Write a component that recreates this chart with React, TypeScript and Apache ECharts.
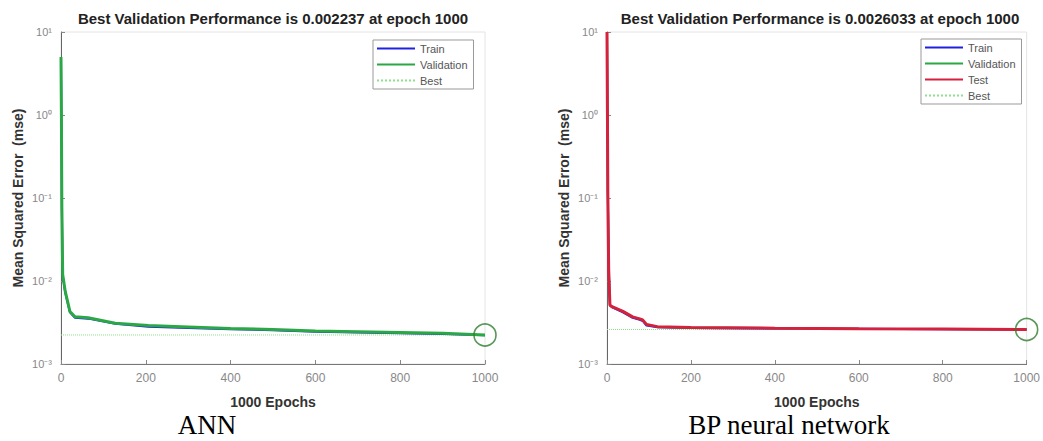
import React, { useEffect, useRef } from "react";
import * as echarts from "echarts";

// ANN (left panel)
const annEpochs = [0, 1, 2, 4, 10, 21, 33, 64, 128, 206, 300, 400, 500, 600, 700, 800, 900, 1000];
const annTrain = [4.6, 0.85, 0.075, 0.0115, 0.0072, 0.0042, 0.0036, 0.00352, 0.00305, 0.00282, 0.00272, 0.00262, 0.00255, 0.00245, 0.0024, 0.00235, 0.0023, 0.00222];
const annValidation = [5, 0.9, 0.08, 0.012, 0.0075, 0.0043, 0.0037, 0.0036, 0.0031, 0.0029, 0.0028, 0.00268, 0.0026, 0.0025, 0.00245, 0.0024, 0.00235, 0.002237];
const annBest = 0.002237;

// BP neural network (right panel)
const bpEpochs = [0, 1, 2, 4, 7, 12, 38, 61, 78, 85, 94, 120, 200, 400, 600, 800, 1000];
const bpTrain = [10, 1.2, 0.12, 0.015, 0.0052, 0.0048, 0.0042, 0.0036, 0.0034, 0.0033, 0.0029, 0.00278, 0.00272, 0.00268, 0.00265, 0.00263, 0.0026];
const bpValidation = [10, 1.1, 0.11, 0.014, 0.0051, 0.0049, 0.0043, 0.0037, 0.0035, 0.0034, 0.0030, 0.00282, 0.00275, 0.0027, 0.00266, 0.00264, 0.0026033];
const bpTest = [10, 1.15, 0.11, 0.014, 0.0051, 0.0049, 0.0043, 0.0037, 0.0035, 0.0034, 0.0030, 0.00282, 0.00275, 0.0027, 0.00266, 0.00264, 0.0026];
const bpBest = 0.0026033;

const xTicks = [0, 200, 400, 600, 800, 1000];
const yDecades = [0.001, 0.01, 0.1, 1, 10];

const titles = [
  "Best Validation Performance is 0.002237 at epoch 1000",
  "Best Validation Performance is 0.0026033 at epoch 1000",
];
const captions = ["ANN", "BP neural network"];

const sup: Record<string, string> = { "-": "\u207B", "0": "\u2070", "1": "\u00B9", "2": "\u00B2", "3": "\u00B3" };
const fmtPow = (v: number) => {
  const e = Math.round(Math.log10(v));
  return "10" + String(e).split("").map((c) => sup[c] || c).join("");
};

const SANS = '"Liberation Sans", Arial, sans-serif';

function pairs(xs: number[], ys: number[]) {
  return xs.map((x, i) => [x, ys[i]]);
}

export default function App() {
  const ref = useRef<HTMLDivElement>(null);
  useEffect(() => {
    if (!ref.current) return;
    const chart = echarts.init(ref.current, undefined, { renderer: "svg" });
    const grids = [
      { left: 61, right: 558, top: 32, bottom: 77 },
      { left: 607, right: 11, top: 32, bottom: 77 },
    ];
    const xAxis = grids.map((_, i) => ({
      type: "value",
      gridIndex: i,
      min: xTicks[0],
      max: xTicks[xTicks.length - 1],
      interval: 200,
      name: "1000 Epochs",
      nameLocation: "middle",
      nameGap: 31,
      nameTextStyle: { fontFamily: SANS, fontWeight: "bold", fontSize: 14, color: "#333" },
      axisLine: { show: true, lineStyle: { color: "#777", width: 1 } },
      axisTick: { show: true, inside: true, length: 4, lineStyle: { color: "#888" } },
      axisLabel: { fontFamily: SANS, fontSize: 12, color: "#888", margin: 8, formatter: (v: number) => String(v) },
      splitLine: { show: false },
    }));
    const yAxis = grids.map((_, i) => ({
      type: "log",
      logBase: 10,
      gridIndex: i,
      min: yDecades[0],
      max: yDecades[yDecades.length - 1],
      name: "Mean Squared Error  (mse)",
      nameLocation: "middle",
      nameRotate: 90,
      nameGap: 36,
      nameTextStyle: { fontFamily: SANS, fontWeight: "bold", fontSize: 14, color: "#333" },
      axisLine: { show: true, lineStyle: { color: "#666", width: 1 } },
      axisTick: { show: true, inside: true, length: 4, lineStyle: { color: "#888" } },
      axisLabel: { fontFamily: SANS, fontSize: 11, color: "#888", margin: 9, formatter: fmtPow },
      splitLine: { show: false },
    }));
    const lineBase = { type: "line", showSymbol: false, symbol: "none", z: 3 };
    const circle = (i: number, best: number) => ({
      type: "scatter",
      name: "bestPoint",
      xAxisIndex: i,
      yAxisIndex: i,
      data: [[1000, best]],
      symbol: "circle",
      symbolSize: 22,
      clip: false,
      z: 6,
      itemStyle: { color: "rgba(0,0,0,0)", borderColor: "#2f7d2f", borderWidth: 1.6 },
    });
    const bestLine = (i: number, best: number) => ({
      ...lineBase,
      name: "Best",
      xAxisIndex: i,
      yAxisIndex: i,
      data: [[0, best], [1000, best]],
      color: "#8fe08f",
      lineStyle: { color: "#8fe08f", width: 1, type: "dotted" },
      z: 2,
    });
    const series: any[] = [
      { ...lineBase, name: "Train", xAxisIndex: 0, yAxisIndex: 0, data: pairs(annEpochs, annTrain), color: "#2020e0", lineStyle: { color: "#2020e0", width: 2 } },
      { ...lineBase, name: "Validation", xAxisIndex: 0, yAxisIndex: 0, data: pairs(annEpochs, annValidation), color: "#22c233", lineStyle: { color: "#2aa845", width: 3 }, z: 4 },
      bestLine(0, annBest),
      circle(0, annBest),
      { ...lineBase, name: "Train", xAxisIndex: 1, yAxisIndex: 1, data: pairs(bpEpochs, bpTrain), color: "#2020e0", lineStyle: { color: "#2020e0", width: 2 } },
      { ...lineBase, name: "Validation", xAxisIndex: 1, yAxisIndex: 1, data: pairs(bpEpochs, bpValidation), color: "#22c233", lineStyle: { color: "#22c233", width: 2 } },
      { ...lineBase, name: "Test", xAxisIndex: 1, yAxisIndex: 1, data: pairs(bpEpochs, bpTest), color: "#e02020", lineStyle: { color: "#d4213d", width: 3 }, z: 5 },
      bestLine(1, bpBest),
      circle(1, bpBest),
    ];
    const legendBase = {
      orient: "vertical",
      backgroundColor: "#fff",
      borderColor: "#999",
      borderWidth: 1,
      borderRadius: 0,
      padding: [3, 6, 3, 3],
      itemWidth: 38,
      itemHeight: 10,
      itemGap: 5,
      selectedMode: false,
      itemStyle: { opacity: 0 },
      textStyle: { fontFamily: SANS, fontSize: 11, color: "#555" },
    };
    const legend = [
      { ...legendBase, left: 373, top: 40, data: ["Train", "Validation", "Best"] },
      { ...legendBase, left: 921, top: 39, data: ["Train", "Validation", "Test", "Best"] },
    ];
    const titleCenters = [273, 820];
    const captionCenters = [207, 789];
    const graphic: any[] = [];
    titles.forEach((t, i) =>
      graphic.push({
        type: "text",
        x: titleCenters[i],
        y: 18,
        z: 10,
        style: { text: t, font: `bold 15px ${SANS}`, fill: "#222", align: "center", verticalAlign: "middle", textAlign: "center", textVerticalAlign: "middle" },
      })
    );
    captions.forEach((t, i) =>
      graphic.push({
        type: "text",
        x: captionCenters[i],
        y: 425,
        z: 10,
        style: { text: t, font: '27px "Liberation Serif", "Times New Roman", serif', lineHeight: 22, fill: "#000", align: "center", verticalAlign: "middle", textAlign: "center", textVerticalAlign: "middle" },
      })
    );
    chart.setOption({
      animation: false,
      backgroundColor: "#fff",
      grid: grids.map((g) => ({ ...g, show: true, borderColor: "#e4e4e4", borderWidth: 1, backgroundColor: "#fff" })),
      xAxis,
      yAxis,
      legend,
      series,
      graphic,
    });
    return () => chart.dispose();
  }, []);
  return <div ref={ref} style={{ position: "fixed", left: 0, top: 0, width: 1043, height: 441, background: "#fff" }} />;
}
